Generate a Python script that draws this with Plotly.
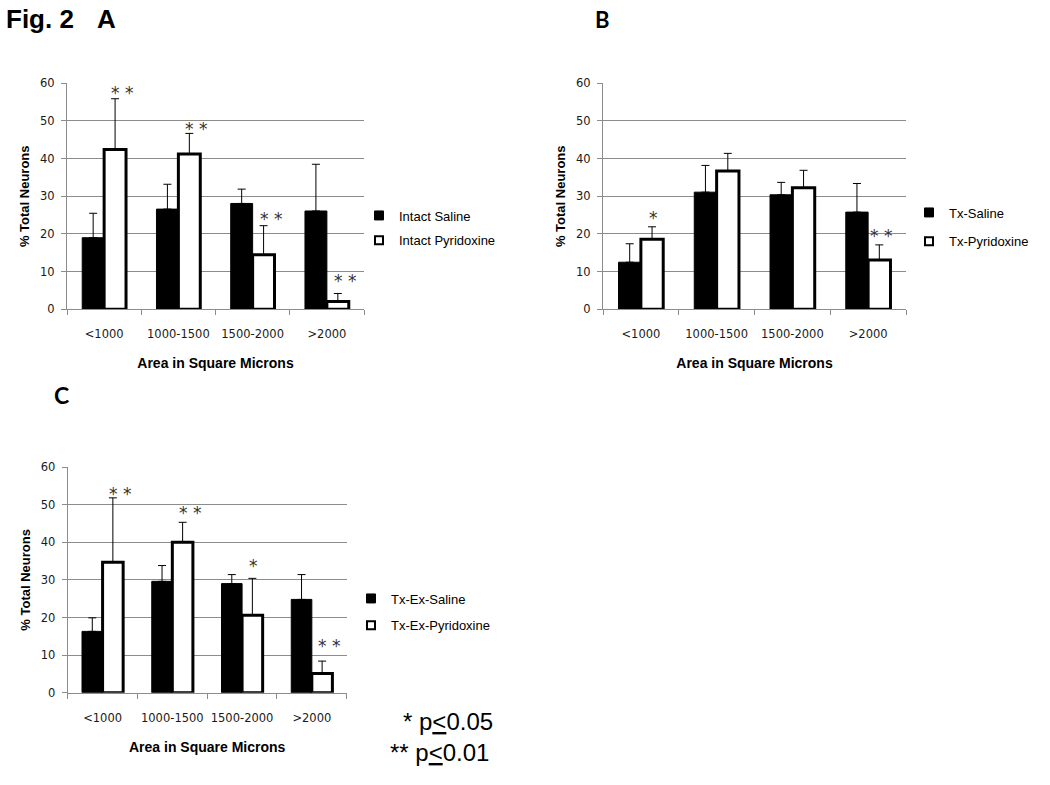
import plotly.graph_objects as go

# ---------------- data ----------------
categories = ["<1000", "1000-1500", "1500-2000", ">2000"]

a_saline = [19.0, 26.6, 28.1, 26.1]
a_saline_err = [6.5, 6.6, 3.8, 12.4]
a_pyridoxine = [42.4, 41.2, 14.5, 2.1]
a_pyridoxine_err = [13.5, 5.5, 7.7, 2.1]
a_stars = ["**", "**", "**", "**"]
a_star_y = [58.2, 48.7, 24.9, 8.4]

b_saline = [12.5, 31.1, 30.4, 25.8]
b_saline_err = [4.9, 7.1, 3.3, 7.6]
b_pyridoxine = [18.6, 36.7, 32.3, 13.1]
b_pyridoxine_err = [3.3, 4.7, 4.6, 4.0]
b_stars = ["*", "", "", "**"]
b_star_y = [25.0, None, None, 20.2]

c_saline = [16.3, 29.6, 29.0, 24.8]
c_saline_err = [3.6, 4.2, 2.4, 6.6]
c_pyridoxine = [34.7, 40.0, 20.6, 5.1]
c_pyridoxine_err = [17.1, 5.3, 9.8, 3.3]
c_stars = ["**", "**", "*", "**"]
c_star_y = [53.6, 48.6, 34.5, 13.1]

legend_names = {
    "A": ("Intact Saline", "Intact Pyridoxine"),
    "B": ("Tx-Saline", "Tx-Pyridoxine"),
    "C": ("Tx-Ex-Saline", "Tx-Ex-Pyridoxine"),
}

W, H = 1050, 785
GRID = "#8c8c8c"
FONT = "Liberation Sans, Arial, sans-serif"
TICKFONT = dict(family="DejaVu Sans, Verdana, sans-serif", size=11.5, color="#1a1a1a")

fig = go.Figure()

panels = [
    ("A", a_saline, a_saline_err, a_pyridoxine, a_pyridoxine_err, a_stars, a_star_y, "x", "y", "legend", 7),
    ("B", b_saline, b_saline_err, b_pyridoxine, b_pyridoxine_err, b_stars, b_star_y, "x2", "y2", "legend2", 2),
    ("C", c_saline, c_saline_err, c_pyridoxine, c_pyridoxine_err, c_stars, c_star_y, "x3", "y3", "legend3", 7),
]

bargap = 0.41
annotations = []
for key, sal, serr, pyr, perr, stars, sy, xa, ya, lg, sshift in panels:
    n1, n2 = legend_names[key]
    fig.add_trace(go.Bar(
        x=categories, y=sal, name=n1, xaxis=xa, yaxis=ya, showlegend=False,
        marker=dict(color="black", line=dict(color="black", width=1)),
        error_y=dict(type="data", symmetric=False, array=serr, arrayminus=[0] * len(serr),
                     color="black", thickness=1, width=4),
    ))
    fig.add_trace(go.Bar(
        x=categories, y=pyr, name=n2, xaxis=xa, yaxis=ya, showlegend=False,
        marker=dict(color="white", line=dict(color="black", width=3)),
        error_y=dict(type="data", symmetric=False, array=perr, arrayminus=[0] * len(perr),
                     color="black", thickness=1, width=4),
    ))
    # legend proxies
    fig.add_trace(go.Scatter(
        x=[None], y=[None], mode="markers", name=n1, xaxis=xa, yaxis=ya, legend=lg,
        legendgroup=key + "1",
        marker=dict(symbol="square", size=9, color="black", line=dict(color="black", width=1)),
    ))
    fig.add_trace(go.Scatter(
        x=[None], y=[None], mode="markers", name=n2, xaxis=xa, yaxis=ya, legend=lg,
        legendgroup=key + "2",
        marker=dict(symbol="square", size=8, color="white", line=dict(color="black", width=2)),
    ))
    offset = (1 - bargap) / 4
    for i, (s, yv) in enumerate(zip(stars, sy)):
        if not s:
            continue
        annotations.append(dict(
            x=i + offset, y=yv, xref=xa, yref=ya, text=" ".join(s), showarrow=False,
            xanchor="center", yanchor="middle", yshift=-3, xshift=sshift if len(s) > 1 else 1,
            font=dict(family="DejaVu Sans, sans-serif", size=17, color="#333333"),
        ))

def xaxis_cfg(domain, anchor):
    return dict(
        domain=domain, anchor=anchor, type="category", categoryarray=categories,
        categoryorder="array", tickson="boundaries", ticks="outside", ticklen=5,
        tickcolor=GRID, showline=True, linecolor=GRID, linewidth=1, showgrid=False,
        tickfont=TICKFONT, ticklabelstandoff=14, zeroline=False, tickangle=0,
        automargin=False,
        title=dict(text="Area in Square Microns", standoff=18,
                   font=dict(family=FONT, size=14, color="black", weight="bold")),
    )

def yaxis_cfg(domain, anchor):
    return dict(
        domain=domain, anchor=anchor, range=[0, 60], dtick=10, showgrid=True,
        gridcolor=GRID, gridwidth=1, showline=True, linecolor=GRID, linewidth=1,
        ticks="outside", ticklen=5, tickcolor=GRID, tickfont=TICKFONT,
        ticklabelstandoff=4, zeroline=False, automargin=False,
        title=dict(text="% Total Neurons", standoff=7,
                   font=dict(family=FONT, size=13, color="black", weight="bold")),
    )

def px_x(p):
    return p / W

def px_y(p):
    return 1 - p / H

legend_common = dict(
    font=dict(family=FONT, size=13, color="black"), bgcolor="rgba(0,0,0,0)",
    xanchor="left", yanchor="middle", itemclick=False, itemdoubleclick=False,
)

annotations += [
    dict(text="Fig. 2", x=px_x(4), y=px_y(19), xref="paper", yref="paper",
         xanchor="left", yanchor="middle", showarrow=False,
         font=dict(family="Liberation Sans, Arial", size=26, color="black", weight="bold")),
    dict(text="A", x=px_x(106), y=px_y(19), xref="paper", yref="paper",
         xanchor="center", yanchor="middle", showarrow=False,
         font=dict(family="Liberation Sans, Arial", size=26, color="black", weight="bold")),
    dict(text="B", x=px_x(602), y=px_y(20), xref="paper", yref="paper",
         xanchor="center", yanchor="middle", showarrow=False,
         font=dict(family="Lato, sans-serif", size=22, color="black", weight="bold")),
    dict(text="C", x=px_x(61), y=px_y(395), xref="paper", yref="paper",
         xanchor="center", yanchor="middle", showarrow=False,
         font=dict(family="Lato, sans-serif", size=23, color="black", weight="bold")),
    dict(text="* p<u>&lt;</u>0.05", x=px_x(401), y=px_y(721), xref="paper", yref="paper",
         xanchor="left", yanchor="middle", showarrow=False,
         font=dict(family=FONT, size=24, color="black")),
    dict(text="** p<u>&lt;</u>0.01", x=px_x(388), y=px_y(752), xref="paper", yref="paper",
         xanchor="left", yanchor="middle", showarrow=False,
         font=dict(family=FONT, size=24, color="black")),
]

fig.update_layout(
    width=W, height=H, margin=dict(l=0, r=0, t=0, b=0, autoexpand=False),
    paper_bgcolor="white", plot_bgcolor="white",
    barmode="group", bargap=bargap, bargroupgap=0,
    xaxis=xaxis_cfg([px_x(67), px_x(364)], "y"),
    yaxis=yaxis_cfg([px_y(309.3), px_y(83.3)], "x"),
    xaxis2=xaxis_cfg([px_x(603), px_x(906)], "y2"),
    yaxis2=yaxis_cfg([px_y(309.3), px_y(83.3)], "x2"),
    xaxis3=xaxis_cfg([px_x(67.7), px_x(346.7)], "y3"),
    yaxis3=yaxis_cfg([px_y(692.7), px_y(467)], "x3"),
    legend=dict(x=px_x(359), y=px_y(228), tracegroupgap=5, **legend_common),
    legend2=dict(x=px_x(909), y=px_y(227), tracegroupgap=9, **legend_common),
    legend3=dict(x=px_x(351), y=px_y(612), tracegroupgap=7, **legend_common),
    annotations=annotations,
    showlegend=True,
)

fig.write_html("out.html", config={"displayModeBar": False},
               post_script="document.body.style.margin='0';document.body.style.overflow='hidden';")
